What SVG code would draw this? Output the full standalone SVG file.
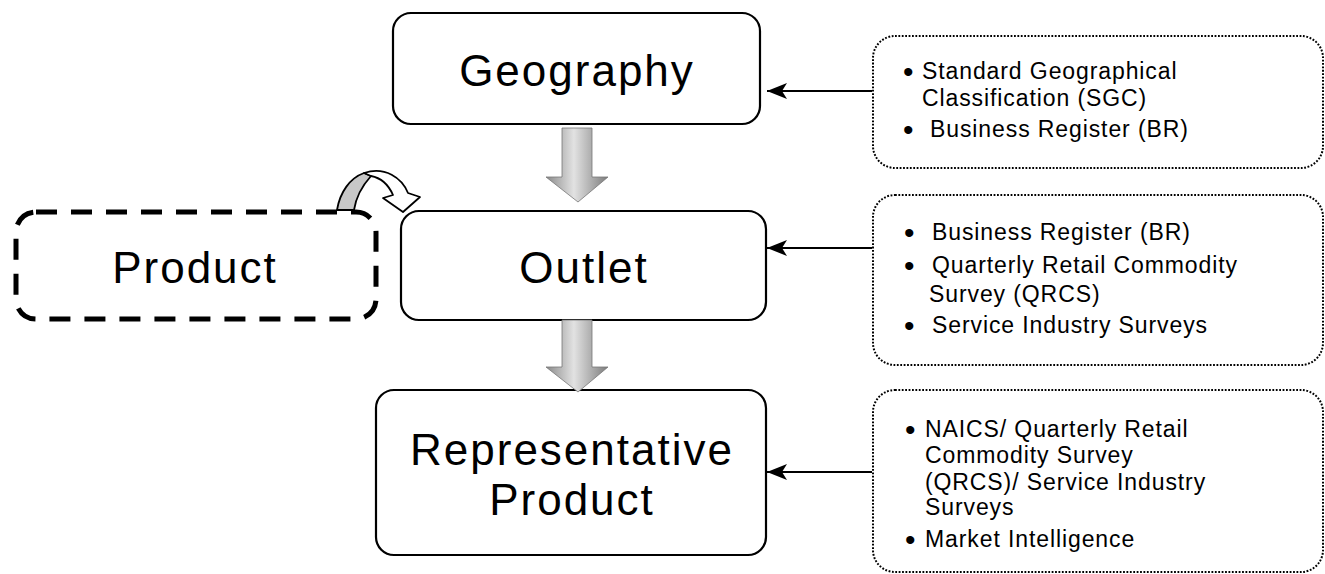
<svg xmlns="http://www.w3.org/2000/svg" width="1325" height="574" viewBox="0 0 1325 574">
<style>
.main{fill:#fff;stroke:#000;stroke-width:2.2}
.dash{fill:#fff;stroke:#000;stroke-width:5;stroke-dasharray:21 14}
.dot{fill:#fff;stroke:#000;stroke-width:2;stroke-dasharray:1.8 1.6}
.big{font-family:"Liberation Sans",Arial,sans-serif;font-size:44px;letter-spacing:2px;text-anchor:middle;fill:#000}
.small{font-family:"Liberation Sans",Arial,sans-serif;font-size:23px;letter-spacing:0.9px;fill:#000}
.bul{font-family:"Liberation Sans",Arial,sans-serif;font-size:30px;fill:#000}
.conn{stroke:#000;stroke-width:2;fill:none}
.block{fill:url(#g);stroke:#777;stroke-width:0.8}
</style>
<defs>
<marker id="ah" markerWidth="22" markerHeight="16" refX="20" refY="8" orient="auto" markerUnits="userSpaceOnUse">
<path d="M0,0 L20,8 L0,16 L5,8 Z" fill="#000"/>
</marker>
<linearGradient id="g" x1="0" y1="0" x2="1" y2="0">
<stop offset="0" stop-color="#8a8a8a"/>
<stop offset="0.45" stop-color="#e2e2e2"/>
<stop offset="1" stop-color="#7c7c7c"/>
</linearGradient>
</defs>

<g id="connectors">
<line class="conn" x1="872" y1="91" x2="767" y2="91" marker-end="url(#ah)"/>
<line class="conn" x1="872" y1="248" x2="767" y2="248" marker-end="url(#ah)"/>
<line class="conn" x1="872" y1="472" x2="767" y2="472" marker-end="url(#ah)"/>
</g>

<g id="node-geography">
<rect class="main" x="393" y="13" width="367" height="111" rx="18"/>
<text class="big" x="577" y="86">Geography</text>
</g>

<g id="node-outlet">
<rect class="main" x="401" y="211" width="365" height="109" rx="18"/>
<text class="big" x="584" y="283">Outlet</text>
</g>

<g id="node-representative">
<rect class="main" x="376" y="390" width="390" height="165" rx="18"/>
<text class="big" x="572" y="465">Representative</text>
<text class="big" x="572" y="515">Product</text>
</g>

<g id="node-product">
<rect class="dash" x="16" y="212" width="360" height="107" rx="20"/>
<text class="big" x="195" y="283">Product</text>
</g>

<g id="arrow-down-1">
<path class="block" d="M562,128 L592,128 L592,177 L608,177 L578,202 L546,177 L562,177 Z"/>
</g>
<g id="arrow-down-2">
<path class="block" d="M562,320 L592,320 L592,367 L608,367 L578,392 L546,367 L562,367 Z"/>
</g>

<g id="curved-arrow">
<path d="M337,210 C340,192 350,178 364,173 L371,176 C362,186 356,197 354,210 Z" fill="#c8c8c8" stroke="#000" stroke-width="1.8" stroke-linejoin="round"/>
<path d="M364,173 C385,166 402,178 408,193 L420,197 L403,212 L383,198 L393,195 C389,186 382,178 371,176 Z" fill="#fff" stroke="#000" stroke-width="1.8" stroke-linejoin="round"/>
</g>

<g id="node-src-geography">
<rect class="dot" x="873" y="36" width="450" height="132" rx="22"/>
<text class="bul" x="903" y="82">•</text>
<text class="small" x="922" y="79">Standard Geographical</text>
<text class="small" x="922" y="106">Classification (SGC)</text>
<text class="bul" x="903" y="140">•</text>
<text class="small" x="930" y="137">Business Register (BR)</text>
</g>

<g id="node-src-outlet">
<rect class="dot" x="873" y="195" width="450" height="170" rx="22"/>
<text class="bul" x="904" y="243">•</text>
<text class="small" x="932" y="240">Business Register (BR)</text>
<text class="bul" x="904" y="276">•</text>
<text class="small" x="932" y="273">Quarterly Retail Commodity</text>
<text class="small" x="929" y="302">Survey (QRCS)</text>
<text class="bul" x="904" y="336">•</text>
<text class="small" x="932" y="333">Service Industry Surveys</text>
</g>

<g id="node-src-product">
<rect class="dot" x="873" y="390" width="450" height="182" rx="22"/>
<text class="bul" x="905" y="440">•</text>
<text class="small" x="925" y="437">NAICS/ Quarterly Retail</text>
<text class="small" x="925" y="463">Commodity Survey</text>
<text class="small" x="925" y="490">(QRCS)/ Service Industry</text>
<text class="small" x="925" y="515">Surveys</text>
<text class="bul" x="905" y="550">•</text>
<text class="small" x="925" y="547">Market Intelligence</text>
</g>
</svg>
